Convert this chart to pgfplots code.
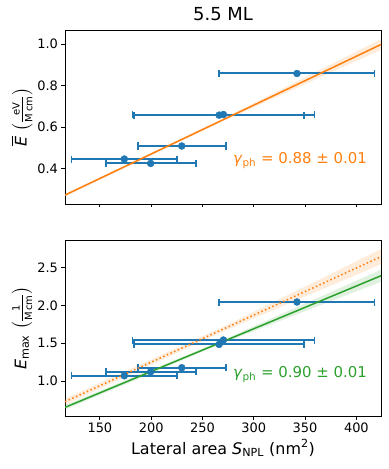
\documentclass[border=0pt]{standalone}
\usepackage{fontspec}
\setmainfont{DejaVu Sans}
\usepackage{amsmath}
\usepackage{pgfplots}
\pgfplotsset{compat=1.18}
\usepackage{pgfplotstable}
\usepgfplotslibrary{fillbetween}

\definecolor{tabblue}{HTML}{1F77B4}
\definecolor{taborange}{HTML}{FF7F0E}
\definecolor{tabgreen}{HTML}{2CA02C}

% lateral area, mean E (1e6), E max (1e7), x error minus / plus
\pgfplotstableread{
x     ebar   emax   em    ep
342.1 0.858  2.046  75.9  75.5
266.2 0.657  1.485  83.0  83.0
270.4 0.660  1.543  88.8  88.6
229.8 0.508  1.176  42.4  43.2
173.8 0.445  1.070  51.5  51.1
199.5 0.424  1.123  43.6  43.9
}\data

\newcommand\smallfrac[2]{\bigl(\frac{\text{\fontsize{10}{11}\selectfont #1}}{\text{\fontsize{10}{11}\selectfont #2}}\bigr)}

\pgfplotsset{
  panel/.style={
    scale only axis, width=316bp,
    xmin=116, xmax=424,
    axis line style={line width=0.8bp},
    tick style={black, line width=0.8bp},
    major tick length=3.5bp, tick align=outside,
    xtick pos=left, ytick pos=left,
    xtick={150,200,...,400},
    ticklabel style={font=\fontsize{13}{15}\selectfont},
    /pgf/number format/assume math mode=true,
    scaled y ticks=false,
    yticklabel style={/pgf/number format/fixed, /pgf/number format/fixed zerofill,
      /pgf/number format/precision=1},
    label style={font=\fontsize{16}{18}\selectfont},
    ylabel style={at={(axis description cs:-0.136,0.5)}, anchor=center, inner sep=0pt},
  },
  errbars/.style={only marks, mark=*, mark size=3.5bp, color=tabblue,
    error bars/.cd, x dir=both, x explicit, error mark=|,
    error bar style={line width=2bp, solid},
    error mark options={line width=1.6bp, mark size=3.5bp, solid}},
}

\begin{document}
\begin{tikzpicture}

\begin{axis}[panel, at={(0,0)}, anchor=north west, height=174bp,
  ymin=0.228, ymax=1.068, ytick={0.4,0.6,0.8,1.0},
  xticklabels={},
  ylabel={$\overline{\textit{E}}$ $\smallfrac{eV}{M\,cm}$},
  title={5.5 ML}, title style={font=\fontsize{18}{20}\selectfont}]
  \addplot[name path=tu, draw=none] coordinates {(116,0.277) (270,0.640) (424,1.024)};
  \addplot[name path=tl, draw=none] coordinates {(116,0.265) (270,0.628) (424,0.972)};
  \addplot[taborange, fill opacity=0.15, draw=none] fill between[of=tu and tl];
  \addplot[errbars] table[x=x, y=ebar, x error minus=em, x error plus=ep] {\data};
  \addplot[taborange, line width=1.5bp] coordinates {(116,0.271) (424,0.998)};
  \node[anchor=south west, inner sep=1bp, font=\fontsize{13}{15}\selectfont]
    at (rel axis cs:0,1) {1e6};
  \node[taborange, font=\fontsize{15}{17}\selectfont] at (axis cs:345,0.438)
    {\textit{γ}\textsubscript{ph} = 0.88 ± 0.01};
\end{axis}

\begin{axis}[panel, at={(0,-210bp)}, anchor=north west, height=176bp,
  ymin=0.537, ymax=2.867, ytick={1.0,1.5,2.0,2.5},
  xlabel={Lateral area \textit{S}\textsubscript{NPL} (nm\textsuperscript{2})},
  ylabel={\textit{E}$_{\text{max}}$ $\smallfrac{1}{M\,cm}$}]
  \addplot[name path=ou, draw=none] coordinates {(116,0.766) (270,1.716) (424,2.746)};
  \addplot[name path=ol, draw=none] coordinates {(116,0.686) (270,1.656) (424,2.546)};
  \addplot[taborange, fill opacity=0.15, draw=none] fill between[of=ou and ol];
  \addplot[name path=gu, draw=none] coordinates {(116,0.681) (270,1.543) (424,2.474)};
  \addplot[name path=gl, draw=none] coordinates {(116,0.621) (270,1.503) (424,2.314)};
  \addplot[tabgreen, fill opacity=0.15, draw=none] fill between[of=gu and gl];
  \addplot[errbars] table[x=x, y=emax, x error minus=em, x error plus=ep] {\data};
  \addplot[taborange, line width=1.5bp, dash pattern=on 1.5bp off 2.5bp] coordinates {(116,0.726) (424,2.646)};
  \addplot[tabgreen, line width=1.5bp] coordinates {(116,0.651) (424,2.394)};
  \node[anchor=south west, inner sep=1bp, font=\fontsize{13}{15}\selectfont]
    at (rel axis cs:0,1) {1e7};
  \node[tabgreen, font=\fontsize{15}{17}\selectfont] at (axis cs:345,1.09)
    {\textit{γ}\textsubscript{ph} = 0.90 ± 0.01};
\end{axis}
\pgfresetboundingbox
\useasboundingbox (-65bp,30bp) rectangle (324bp,-439bp);
\end{tikzpicture}
\end{document}
